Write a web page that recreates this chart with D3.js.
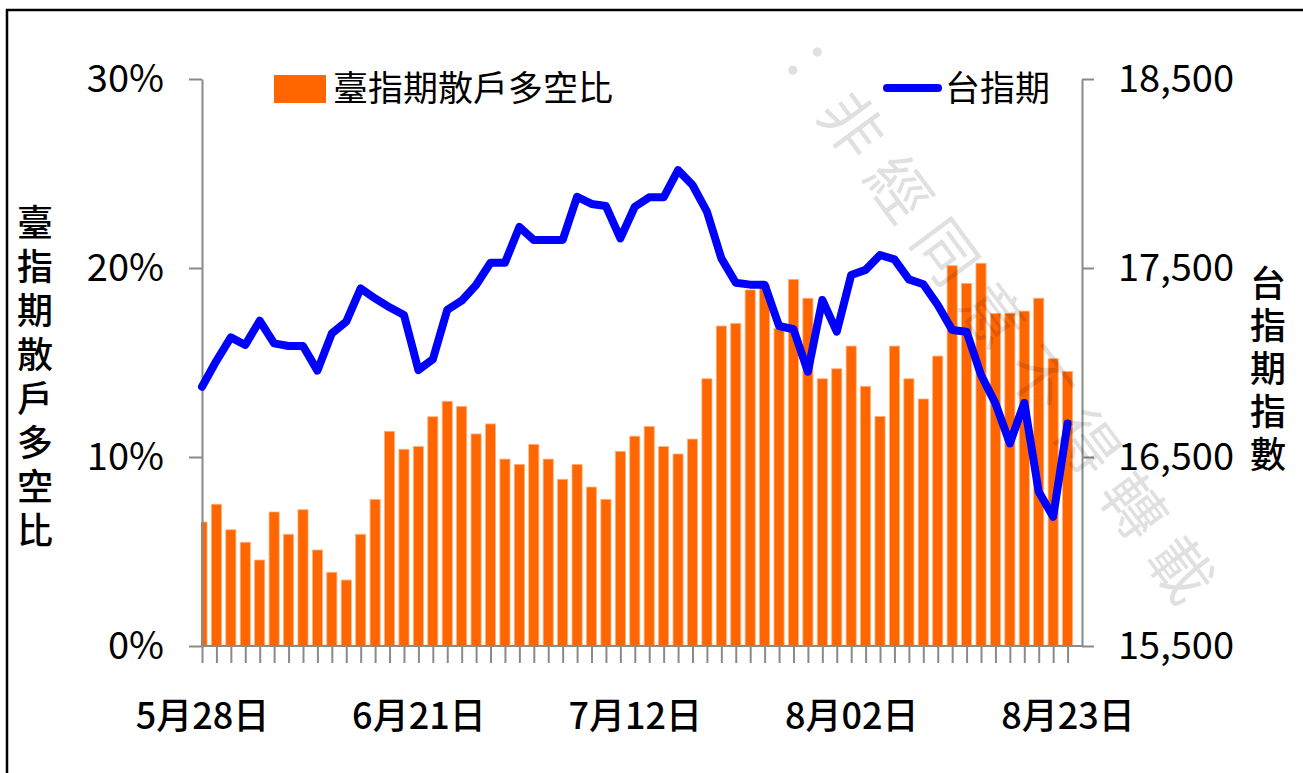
<!DOCTYPE html>
<html>
<head>
<meta charset="utf-8">
<script src="https://cdn.jsdelivr.net/npm/d3@7/dist/d3.min.js"></script>
<style>
  body { margin: 0; background: #fff; }
  text { font-family: "Noto Sans CJK TC", "Noto Sans", sans-serif; fill: #000; }
</style>
</head>
<body>
<svg id="chart" width="1303" height="773"></svg>
<script>
// *** data ***
var dates = ["5月28日","5月31日","6月01日","6月02日","6月03日","6月04日","6月07日","6月08日","6月09日","6月10日",
  "6月11日","6月15日","6月16日","6月17日","6月18日","6月21日","6月22日","6月23日","6月24日","6月25日",
  "6月28日","6月29日","6月30日","7月01日","7月02日","7月05日","7月06日","7月07日","7月08日","7月09日",
  "7月12日","7月13日","7月14日","7月15日","7月16日","7月19日","7月20日","7月21日","7月22日","7月23日",
  "7月26日","7月27日","7月28日","7月29日","7月30日","8月02日","8月03日","8月04日","8月05日","8月06日",
  "8月09日","8月10日","8月11日","8月12日","8月13日","8月16日","8月17日","8月18日","8月19日","8月20日",
  "8月23日"];

// 臺指期散戶多空比 (%)
var retailRatio = [6.56, 7.5, 6.15, 5.49, 4.55, 7.09, 5.91, 7.21, 5.08, 3.9,
  3.49, 5.91, 7.76, 11.36, 10.41, 10.55, 12.13, 12.95, 12.68, 11.22,
  11.75, 9.89, 9.61, 10.67, 9.89, 8.82, 9.61, 8.41, 7.76, 10.3,
  11.1, 11.62, 10.55, 10.16, 10.95, 14.14, 16.93, 17.07, 18.84, 19.1,
  16.8, 19.4, 18.4, 14.14, 14.67, 15.87, 13.74, 12.15, 15.87, 14.14,
  13.07, 15.34, 20.12, 19.19, 20.25, 17.6, 17.6, 17.72, 18.4, 15.2,
  14.53];

// 台指期
var futuresIndex = [16872, 17009, 17133, 17093, 17221, 17101, 17087, 17087, 16957, 17154,
  17216, 17392, 17339, 17292, 17251, 16960, 17017, 17278, 17327, 17410,
  17528, 17528, 17717, 17648, 17648, 17648, 17877, 17839, 17828, 17657,
  17824, 17874, 17874, 18018, 17939, 17798, 17551, 17422, 17412, 17412,
  17193, 17176, 16951, 17331, 17163, 17463, 17490, 17569, 17546, 17440,
  17414, 17304, 17172, 17163, 16934, 16784, 16572, 16787, 16316, 16184,
  16677];

var leftTicks = [0, 10, 20, 30];
var rightTicks = [15500, 16500, 17500, 18500];
var labelEvery = 15;

var barName = "臺指期散戶多空比";
var lineName = "台指期";
var leftTitle = "臺指期散戶多空比";
var rightTitle = "台指期指數";
var watermark = "：非經同意不得轉載";

// *** layout ***
var svg = d3.select("#chart");
var plot = {left: 202, right: 1082, top: 79, bottom: 646};
var step = (plot.right - plot.left) / dates.length;
var axisColor = "#8a8a8a";

var x = d3.scalePoint()
    .domain(dates)
    .range([plot.left, plot.left + step * (dates.length - 1)]);

var yLeft = d3.scaleLinear().domain([0, 30]).range([plot.bottom, plot.top]);
var yRight = d3.scaleLinear().domain([15500, 18500]).range([plot.bottom, plot.top]);

var barWidth = step * 0.7;

// frame around the chart
svg.append("rect")
    .attr("x", 7).attr("y", 10)
    .attr("width", 1320).attr("height", 800)
    .attr("fill", "none")
    .attr("stroke", "#000")
    .attr("stroke-width", 2.5);

svg.append("clipPath").attr("id", "plotClip")
  .append("rect")
    .attr("x", plot.left - 1).attr("y", 0)
    .attr("width", plot.right - plot.left + 1).attr("height", plot.bottom + 1);

// bars
svg.append("g")
    .attr("clip-path", "url(#plotClip)")
  .selectAll("rect")
  .data(retailRatio)
  .enter().append("rect")
    .attr("x", (d, i) => x(dates[i]) - barWidth / 2)
    .attr("y", d => yLeft(d))
    .attr("width", barWidth)
    .attr("height", d => yLeft(0) - yLeft(d))
    .attr("fill", "#ff6600")
    .attr("stroke", "#ffb27f")
    .attr("stroke-width", 0.8);

// left axis
var leftAxis = svg.append("g")
    .attr("transform", "translate(" + plot.left + ",0)")
    .call(d3.axisLeft(yLeft).tickValues(leftTicks).tickSize(13).tickSizeOuter(0).tickPadding(25)
        .tickFormat(d => d + "%"));

// right axis
var rightAxis = svg.append("g")
    .attr("transform", "translate(" + plot.right + ",0)")
    .call(d3.axisRight(yRight).tickValues(rightTicks).tickSize(12).tickSizeOuter(0).tickPadding(24)
        .tickFormat(d3.format(",")));

[leftAxis, rightAxis].forEach(function(g) {
    g.select(".domain").attr("stroke", axisColor).attr("stroke-width", 2);
    g.selectAll(".tick line").attr("stroke", axisColor).attr("stroke-width", 2);
    g.selectAll(".tick text")
        .style("font-size", "38px")
        .attr("dy", "0.34em");
});

// bottom axis (a tick under every trading day, label every 15th day)
var bottomAxis = svg.append("g")
    .attr("transform", "translate(0," + plot.bottom + ")")
    .call(d3.axisBottom(x).tickSize(17).tickSizeOuter(0).tickPadding(40)
        .tickFormat((d, i) => i % labelEvery === 0 ? d : ""));

bottomAxis.select(".domain").remove();
bottomAxis.selectAll(".tick line").attr("stroke", axisColor).attr("stroke-width", 2);
bottomAxis.selectAll(".tick text")
    .style("font-size", "36px")
    .style("font-weight", "500")
    .attr("dy", "0.71em");

svg.append("line")
    .attr("x1", plot.left).attr("x2", plot.right)
    .attr("y1", plot.bottom).attr("y2", plot.bottom)
    .attr("stroke", axisColor).attr("stroke-width", 2);

// index line
var lineMaker = d3.line()
    .x((d, i) => x(dates[i]))
    .y(d => yRight(d));

svg.append("path")
    .attr("d", lineMaker(futuresIndex))
    .attr("fill", "none")
    .attr("stroke", "#0000ff")
    .attr("stroke-width", 8)
    .attr("stroke-linejoin", "round")
    .attr("stroke-linecap", "round");

// legend
var legend = svg.append("g");
legend.append("rect")
    .attr("x", 274).attr("y", 75)
    .attr("width", 52).attr("height", 28)
    .attr("fill", "#ff6600");
legend.append("text")
    .attr("x", 333).attr("y", 101)
    .style("font-size", "35px")
    .text(barName);
legend.append("line")
    .attr("x1", 887).attr("x2", 938)
    .attr("y1", 88).attr("y2", 88)
    .attr("stroke", "#0000ff")
    .attr("stroke-width", 8)
    .attr("stroke-linecap", "round");
legend.append("text")
    .attr("x", 945).attr("y", 101)
    .style("font-size", "35px")
    .text(lineName);

// vertical axis titles, written top to bottom
function vertical_title(textValue, cx, top, gap) {
    svg.append("text")
        .attr("x", cx)
        .attr("y", top)
        .style("writing-mode", "vertical-rl")
        .style("text-orientation", "upright")
        .style("font-size", "36px")
        .style("font-weight", "500")
        .style("letter-spacing", (gap - 36) + "px")
        .text(textValue);
}
vertical_title(leftTitle, 35, 204, 44);
vertical_title(rightTitle, 1268, 265, 42.8);

// watermark
svg.append("text")
    .attr("transform", "translate(768,50) rotate(53.5)")
    .style("font-size", "62px")
    .style("letter-spacing", "17px")
    .style("fill", "#000")
    .style("fill-opacity", 0.12)
    .text(watermark);
</script>
</body>
</html>
